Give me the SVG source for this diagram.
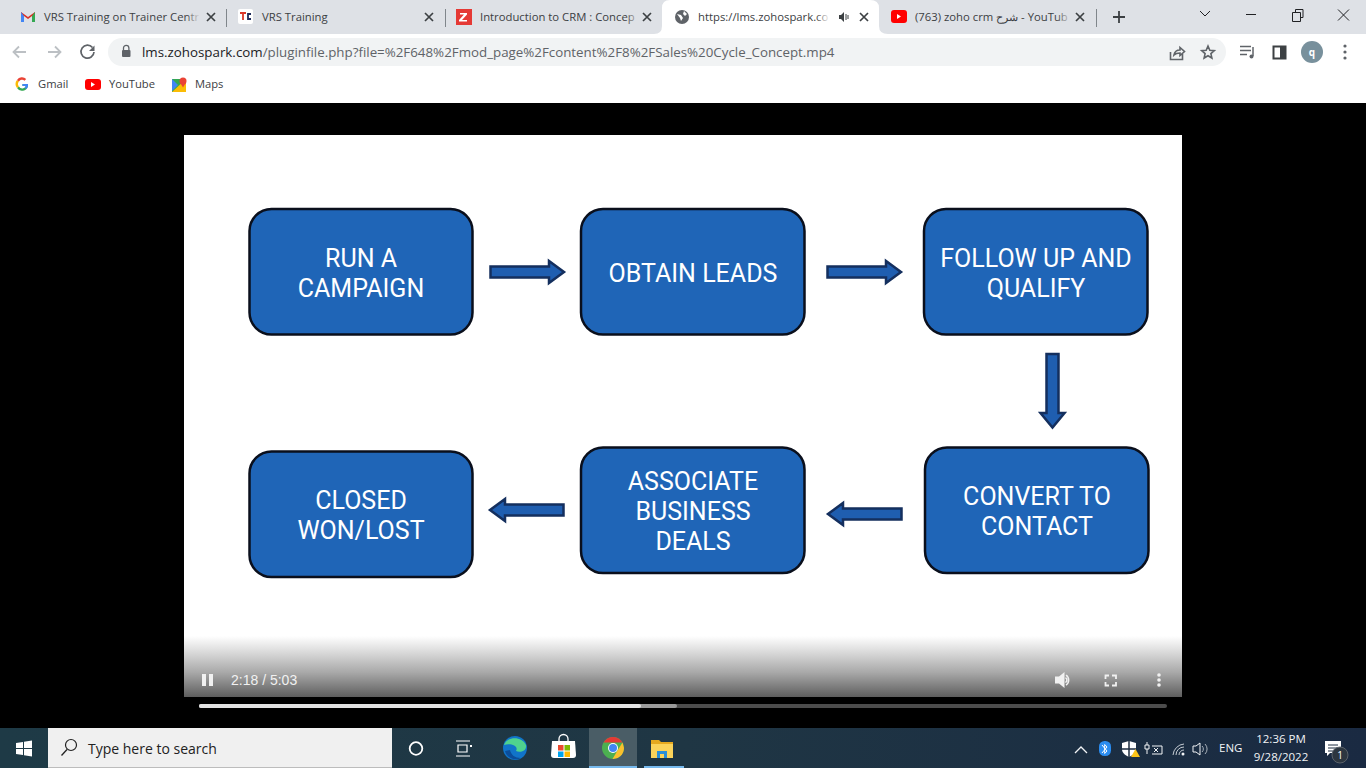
<svg xmlns="http://www.w3.org/2000/svg" width="1366" height="768" viewBox="0 0 1366 768">
<style>
.ui{font-family:"Open Sans","Noto Sans","Noto Sans CJK SC",sans-serif;font-size:11.3px;fill:#3c4043}
.url{font-family:"Open Sans","Noto Sans",sans-serif;font-size:13.33px;fill:#5f6368}
.bm{font-family:"Open Sans","Noto Sans",sans-serif;font-size:11.2px;fill:#3c4043}
.box{fill:#1f65b7;stroke:#0a0f1c;stroke-width:2.5}
.lbl{font-family:Roboto,"Liberation Sans",sans-serif;font-size:25px;fill:#fff;text-anchor:middle}
.arr{fill:#1f5eb0;stroke:#142f5e;stroke-width:2.5;stroke-linejoin:miter}
.x{stroke:#3c4043;stroke-width:1.7;fill:none}
.sep{stroke:#80868b;stroke-width:1}
.ic{stroke:#5f6368;stroke-width:1.6;fill:none}
.icg{stroke:#bcc0c4;stroke-width:1.8;fill:none}
.wc{stroke:#202124;stroke-width:1;fill:none}
.tray{font-family:"Open Sans","Noto Sans",sans-serif;font-size:11.5px;fill:#f2f4f6}
.vid{fill:#f1f1f1}
</style>
<defs>
<linearGradient id="fade" x1="0" y1="0" x2="0" y2="1"><stop offset="0" stop-color="#fff"/><stop offset=".25" stop-color="#dcdcdc"/><stop offset=".6" stop-color="#a8a8a8"/><stop offset="1" stop-color="#5e5e5e"/></linearGradient>
<linearGradient id="task" x1="0" y1="0" x2="1" y2="0"><stop offset="0" stop-color="#1e3a46"/><stop offset=".5" stop-color="#1f3644"/><stop offset="1" stop-color="#1a2a42"/></linearGradient>
<linearGradient id="tf" x1="0" y1="0" x2="1" y2="0"><stop offset="0" stop-color="#dee1e6" stop-opacity="0"/><stop offset="1" stop-color="#dee1e6"/></linearGradient>
<linearGradient id="tfw" x1="0" y1="0" x2="1" y2="0"><stop offset="0" stop-color="#fff" stop-opacity="0"/><stop offset="1" stop-color="#fff"/></linearGradient>
</defs>

<rect width="1366" height="768" fill="#000"/>
<!-- browser chrome -->
<rect width="1366" height="34" fill="#dee1e6"/>
<rect y="34" width="1366" height="69" fill="#fff"/>
<path d="M654 34q8 0 8-8V8q0-8 8-8h200q9 0 9 8v18q0 8 9 8z" fill="#fff"/>

<path d="M21 22V12l7 5 7-5v10h-3v-6l-4 3-4-3v6z" fill="#d93025"/><path d="M21 12v10h3v-6z" fill="#4285f4"/><path d="M35 12v10h-3v-6z" fill="#34a853"/>
<text class="ui" x="44" y="21">VRS Training on Trainer Centr</text>
<rect x="186" y="8" width="14" height="18" fill="url(#tf)"/>
<path class="x" d="M207 13l8 8m0-8l-8 8"/>
<line class="sep" x1="226.500" y1="9" x2="226.500" y2="27"/>
<rect x="238" y="9" width="15" height="15" rx="2" fill="#fff"/>
<path d="M240 13h6M243 13v7" stroke="#d9382b" stroke-width="1.800" fill="none"/><path d="M251 14h-3v5h3" stroke="#1c2a5a" stroke-width="1.800" fill="none"/>
<text class="ui" x="262" y="21">VRS Training</text>
<path class="x" d="M425 13l8 8m0-8l-8 8"/>
<line class="sep" x1="445.500" y1="9" x2="445.500" y2="27"/>
<rect x="456" y="9" width="16" height="16" fill="#e53935"/>
<path d="M460 13h7v1.500l-5 5.500h5v1.500h-8v-1.500l5-5.500h-4z" fill="#fff"/>
<text class="ui" x="480" y="21">Introduction to CRM : Concep</text>
<rect x="626" y="8" width="14" height="18" fill="url(#tf)"/>
<path class="x" d="M643 13l8 8m0-8l-8 8"/>

<circle cx="682" cy="17" r="7" fill="#5f6368"/><path d="M677 14l4 1 2 3-2 3-1-3zM684 11l3 3-2 2-2-2z" fill="#fff"/>
<text class="ui" x="698" y="21">https://lms.zohospark.co</text>
<rect x="816" y="8" width="14" height="18" fill="url(#tfw)"/>
<path d="M839 15h2l3-3v10l-3-3h-2z" fill="#3c4043"/><path d="M846 14v6M848 15v4" stroke="#3c4043" stroke-width="1" fill="none"/>
<path class="x" d="M860 13l8 8m0-8l-8 8"/>

<rect x="891" y="10" width="16" height="13" rx="3" fill="#f00"/><path d="M897 14l4 2.500-4 2.500z" fill="#fff"/>
<text class="ui" x="915" y="21">(763) zoho crm شرح - YouTub</text>
<rect x="1056" y="8" width="16" height="18" fill="url(#tf)"/>
<path class="x" d="M1076 13l8 8m0-8l-8 8"/>
<line class="sep" x1="1096.500" y1="9" x2="1096.500" y2="27"/>
<path d="M1119 11v12M1113 17h12" stroke="#3c4043" stroke-width="1.800" fill="none"/>
<path class="wc" d="M1200 11l5 5 5-5"/>
<path class="wc" d="M1246 14.500h10"/>
<path class="wc" d="M1292.500 12.500h8v9h-8zM1295.500 12.500v-3h7.500v8h-2.500"/>
<path class="wc" d="M1338 9.500l11 11m0-11l-11 11"/>

<path d="M26 52h-12m5-5.500l-5.500 5.500 5.500 5.500" class="icg"/>
<path d="M48 52h12m-5-5.500l5.500 5.500-5.500 5.500" class="icg"/>
<path d="M92.500 47.500a6.500 6.500 0 1 0 1.500 4.500" stroke="#5f6368" stroke-width="1.700" fill="none"/><path d="M94.500 45.500v5.500h-5.500z" fill="#5f6368"/>
<rect x="108" y="38" width="1118" height="28" rx="14" fill="#f1f3f4"/>
<rect x="122" y="50" width="8.500" height="7" rx="1" fill="#5f6368"/><path d="M123.500 50v-2a2.700 2.700 0 0 1 5.400 0v2" stroke="#5f6368" stroke-width="1.300" fill="none"/>
<text class="url" x="142" y="57"><tspan fill="#202124">lms.zohospark.com</tspan>/pluginfile.php?file=%2F648%2Fmod_page%2Fcontent%2F8%2FSales%20Cycle_Concept.mp4</text>
<path class="ic" d="M1170.500 52v7.500h12V54M1174 55c.5-3 3-5 6-5v-2.500l4.500 4-4.500 4V53c-2.500 0-4.500.5-6 2z" stroke-width="1"/>
<path class="ic" d="M1208 46l1.800 4.200 4.500.4-3.400 3 1 4.400-3.900-2.300-3.900 2.300 1-4.400-3.400-3 4.500-.4z" stroke="#3c4043" stroke-width="1.400"/>
<path d="M1240 46.500h11M1240 50.500h11M1240 54.500h7" stroke="#5f6368" stroke-width="1.500" fill="none"/><path d="M1253 47v9" stroke="#5f6368" stroke-width="1.500"/><circle cx="1251.500" cy="56.500" r="2" fill="#5f6368"/>
<rect x="1273.500" y="46.500" width="12" height="12" fill="none" stroke="#3c4043" stroke-width="2"/><rect x="1280" y="46" width="6" height="13" fill="#3c4043"/>
<circle cx="1312" cy="52" r="11" fill="#78909c"/>
<text x="1312" y="55.500" font-family="Open Sans,sans-serif" font-size="10" font-weight="700" fill="#fff" text-anchor="middle">q</text>
<g fill="#5f6368"><circle cx="1345" cy="46" r="1.600"/><circle cx="1345" cy="52" r="1.600"/><circle cx="1345" cy="58" r="1.600"/></g>

<!-- bookmarks -->
<path d="M28 84h-5.500v2h3.300a3.700 3.700 0 0 1-6.800 .5l-2 1.500a6 6 0 0 0 11-4z" fill="#34a853"/>
<path d="M19 86.500a3.800 3.800 0 0 1 0-5l-2-1.500a6 6 0 0 0 0 8z" fill="#fbbc05"/>
<path d="M19 81.500a3.700 3.700 0 0 1 5.500-.8l1.700-1.700a6 6 0 0 0-9.200 1z" fill="#ea4335"/>
<path d="M28 84h-5.500v2h3.300a3 3 0 0 1-1.300 1.700l1.800 1.400c1.300-1.200 2-3 1.700-5.100z" fill="#4285f4"/>
<text class="bm" x="38" y="88">Gmail</text>
<rect x="85" y="79" width="16" height="11" rx="3" fill="#f00"/><path d="M91 82l4 2.500-4 2.500z" fill="#fff"/>
<text class="bm" x="109" y="88">YouTube</text>
<path d="M172 79h14v13h-14z" fill="#34a853"/><path d="M172 92l14-13v13z" fill="#fbbc05"/><path d="M172 79l6 6-6 6z" fill="#4285f4"/><circle cx="183" cy="81" r="3.500" fill="#ea4335"/><path d="M180 82.500l3 5 3-5z" fill="#ea4335"/>
<text class="bm" x="195" y="88">Maps</text>

<!-- video -->
<rect x="184" y="135" width="998" height="562" fill="#fff"/>
<rect x="184" y="636" width="998" height="61" fill="url(#fade)"/>

<g id="connectors">
<path class="arr" d="M490.500 266.500H549V261l15 11-15 11v-5.500H490.500z"/>
<path class="arr" d="M827.500 266.500H886V261l15 11-15 11v-5.500H827.500z"/>
<path class="arr" d="M1046.500 354H1058.500V413H1064.500L1052.500 427.500 1040.500 413H1046.500z"/>
<path class="arr" d="M901.500 508.500H843V503l-15 11 15 11v-5.500H901.500z"/>
<path class="arr" d="M563.500 504.500H505V499l-15 11 15 11v-5.500H563.500z"/>
</g>

<g id="node-run-campaign"><rect class="box" x="249.500" y="209" width="223" height="125.500" rx="22"/><text class="lbl" x="361" y="266.500">RUN A</text><text class="lbl" x="361" y="296.500">CAMPAIGN</text></g>
<g id="node-obtain-leads"><rect class="box" x="581" y="209" width="223.500" height="125.500" rx="22"/><text class="lbl" x="693" y="281.500">OBTAIN LEADS</text></g>
<g id="node-follow-up"><rect class="box" x="924" y="209" width="223.500" height="125.500" rx="22"/><text class="lbl" x="1036" y="266.500">FOLLOW UP AND</text><text class="lbl" x="1036" y="296.500">QUALIFY</text></g>
<g id="node-convert"><rect class="box" x="925" y="447.500" width="223.500" height="125.500" rx="22"/><text class="lbl" x="1037" y="504.500">CONVERT TO</text><text class="lbl" x="1037" y="534.500">CONTACT</text></g>
<g id="node-associate"><rect class="box" x="581" y="447.500" width="223.500" height="125.500" rx="22"/><text class="lbl" x="693" y="489.500">ASSOCIATE</text><text class="lbl" x="693" y="519.500">BUSINESS</text><text class="lbl" x="693" y="549.500">DEALS</text></g>
<g id="node-closed"><rect class="box" x="249.500" y="451.500" width="223" height="125.500" rx="22"/><text class="lbl" x="361" y="508.500">CLOSED</text><text class="lbl" x="361" y="538.500">WON/LOST</text></g>

<!-- player controls -->
<rect class="vid" x="202" y="674" width="4" height="12"/><rect class="vid" x="209" y="674" width="4" height="12"/>
<text x="231" y="685" font-family="Liberation Sans,Arial,sans-serif" font-size="14" fill="#f1f1f1">2:18 / 5:03</text>
<path class="vid" d="M1055 676.500h4l5.500-4.500v16l-5.500-4.500h-4z"/><path d="M1066 675a6 6 0 0 1 0 10M1065.500 677.500a3 3 0 0 1 0 5" stroke="#f1f1f1" stroke-width="1.500" fill="none"/>
<path d="M1105.500 679v-3.500h3.500M1112 675.500h4v3.500M1116 682v3.500h-4M1109 685.500h-3.500V682" stroke="#f1f1f1" stroke-width="1.800" fill="none"/>
<g class="vid"><circle cx="1159" cy="675" r="1.800"/><circle cx="1159" cy="680" r="1.800"/><circle cx="1159" cy="685" r="1.800"/></g>
<rect x="199" y="704" width="968" height="4" rx="2" fill="#4c4c4c"/>
<rect x="199" y="704" width="478" height="4" rx="2" fill="#9a9a9a"/>
<rect x="199" y="704" width="442" height="4" rx="2" fill="#e2e2e2"/>

<!-- taskbar -->
<rect y="728" width="1366" height="40" fill="url(#task)"/>
<path d="M16 743l7-1v6h-7zM24 741.700l8-1.200v7.500h-8zM16 749h7v6l-7-1zM24 749h8v7.500l-8-1.200z" fill="#fff"/>
<rect x="48" y="728" width="344" height="40" fill="#f0f0f0"/><rect x="48" y="767" width="344" height="1" fill="#bcbcbc"/>
<circle cx="71" cy="745" r="5.500" fill="none" stroke="#222" stroke-width="1.200"/><path d="M67 749.500l-5.500 6" stroke="#222" stroke-width="1.300"/>
<text x="88" y="754" font-family="Open Sans,sans-serif" font-size="14" fill="#222">Type here to search</text>
<circle cx="416" cy="748.500" r="6.300" fill="none" stroke="#fff" stroke-width="1.800"/>
<path d="M456 741h14M456 756h14M458 745h9v7h-9z" stroke="#fff" stroke-width="1.200" fill="none"/><rect x="470" y="745" width="2" height="2" fill="#fff"/>
<circle cx="515" cy="748" r="12" fill="#1174c9"/><path d="M504 745c3-9 18-9 22 0 1 6-6 8-10 6 3-5-5-8-12-6z" fill="#4fd28e"/><path d="M510 750c1 5 5 8 11 8-5 3-14 1-16-7z" fill="#0b4d9a"/>
<path d="M552 741h23l1 14a3 3 0 0 1-3 3h-19a3 3 0 0 1-3-3z" fill="#fff"/><path d="M559 741v-2a4.500 4.500 0 0 1 9 0v2" stroke="#fff" stroke-width="1.300" fill="none"/>
<rect x="558" y="745" width="5.500" height="5.500" fill="#e9492f"/><rect x="564.500" y="745" width="5.500" height="5.500" fill="#7db900"/><rect x="558" y="751.500" width="5.500" height="5.500" fill="#00a4ef"/><rect x="564.500" y="751.500" width="5.500" height="5.500" fill="#ffb900"/>
<rect x="589" y="728" width="48" height="40" fill="#4a5d66"/><rect x="589" y="766" width="48" height="2" fill="#76b9ed"/>
<circle cx="613" cy="748" r="11" fill="#4caf50"/><path d="M603.500 742.500a11 11 0 0 1 19 0H613z" fill="#e53935"/><path d="M624 748a11 11 0 0 1-11.500 11l5-8.500 5-8z" fill="#fbc02d"/><circle cx="613" cy="748" r="5" fill="#fff"/><circle cx="613" cy="748" r="4" fill="#4285f4"/>
<rect x="644" y="766" width="40" height="2" fill="#76b9ed"/>
<path d="M651 740h8l2 2h12v5h-22z" fill="#e6a91f"/><rect x="651" y="744" width="22" height="14" fill="#fbd35a"/><rect x="657" y="751" width="10" height="7" fill="#2a8fd8"/><rect x="660" y="754" width="4" height="4" fill="#fbd35a"/>

<!-- tray -->
<path d="M1075 753l6-6 6 6" stroke="#f2f4f6" stroke-width="1.300" fill="none"/>
<rect x="1099" y="741" width="12" height="15" rx="5.500" fill="#2a8cf0"/><path d="M1102 745l5 6-2.300 2.500v-9l2.300 2.500-5 6" stroke="#fff" stroke-width="1" fill="none"/>
<path d="M1122 743l7-2 7 2v6c0 4-3 6-7 8-4-2-7-4-7-8z" fill="#fff"/><path d="M1129 741v16M1122 749h14" stroke="#1d2c40" stroke-width="1.500"/>
<path d="M1131 757l4.500-8 4.500 8z" fill="#fcc419"/>
<path d="M1147 742v3h-2v4h4v-4h-2M1147 749v5M1152 746h10v8h-10" stroke="#f2f4f6" stroke-width="1" fill="none"/><path d="M1154 748l4 4m0-4l-4 4" stroke="#f2f4f6" stroke-width="1"/>
<path d="M1173 755a12 12 0 0 1 11-11M1176 755a8 8 0 0 1 8-8M1179 755a5 5 0 0 1 5-5" stroke="#c5ccd3" stroke-width="1" fill="none"/><circle cx="1183" cy="754" r="1.500" fill="#f2f4f6"/>
<path d="M1193 746h3l4-3v12l-4-3h-3z" fill="none" stroke="#f2f4f6" stroke-width="1"/><path d="M1202 746a4 4 0 0 1 0 6M1205 744a7 7 0 0 1 0 10" stroke="#aab3bc" stroke-width="1" fill="none"/>
<text class="tray" x="1219" y="752">ENG</text>
<text class="tray" x="1281" y="743" text-anchor="middle">12:36 PM</text>
<text class="tray" x="1281" y="761" text-anchor="middle">9/28/2022</text>
<path d="M1325 741h16v12h-11l-3 3v-3h-2z" fill="#fff"/><path d="M1328 745h10M1328 748h10M1328 751h7" stroke="#1d2c40" stroke-width="1"/>
<circle cx="1340" cy="755" r="8" fill="#2c3640" stroke="#5a626a"/>
<text x="1340" y="759" font-family="Open Sans,sans-serif" font-size="10" fill="#fff" text-anchor="middle">1</text>
</svg>
